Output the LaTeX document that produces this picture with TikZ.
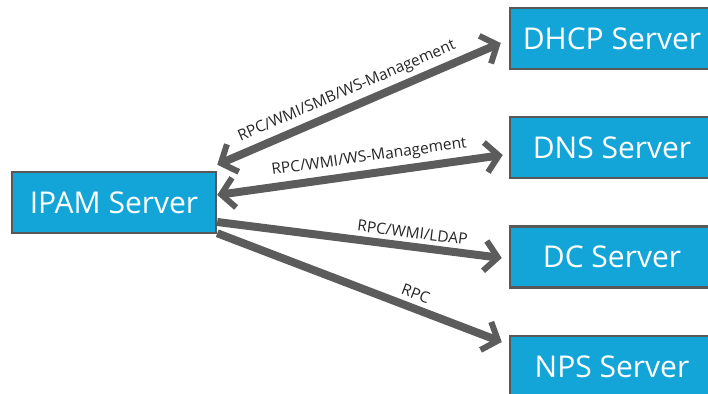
\documentclass[tikz,border=0pt]{standalone}
\usepackage{fontspec}
\setmainfont{Open Sans}
\usetikzlibrary{arrows.meta,calc}
\definecolor{boxblue}{RGB}{20,165,216}
\definecolor{boxedge}{RGB}{88,88,88}
\definecolor{linkgrey}{RGB}{92,92,92}
\tikzset{
  server/.style={draw=boxedge, line width=2.5pt, fill=boxblue, text=white,
    minimum width=204pt, minimum height=61pt, inner sep=0pt,
    font=\fontsize{30}{30}\selectfont},
  barb/.tip={Straight Barb[length=13pt,width=30pt,line width=6pt]},
  link/.style={draw=linkgrey, line width=8pt, -barb},
  twoway/.style={draw=linkgrey, line width=8pt, barb-barb},
  proto/.style={sloped, above, inner sep=4.5pt, text=black!85,
    font=\fontsize{15.5}{16}\selectfont}
}
\begin{document}
\begin{tikzpicture}[x=1pt,y=1pt]
  \useasboundingbox (0,0) rectangle (708,393);
  \begin{scope}
    \clip (0,0) rectangle (708,393);
    % servers
    \node[server] (ipam) at (114,190.5) {IPAM Server};
    \node[server] (dhcp) at (612,354.5) {DHCP Server};
    \node[server] (dns)  at (612,245.5) {DNS Server};
    \node[server] (dc)   at (612,136)   {DC Server};
    \node[server] (nps)  at (612,26.5)  {NPS Server};
    % protocol links
    \draw[twoway] ($(ipam.north east)+(0,6)$) -- ($(dhcp.west)+(-8,-4.5)$)
      node[proto, pos=0.48] {RPC/WMI/SMB/WS-Management};
    \draw[twoway] ($(ipam.east)+(0,7.5)$) -- ($(dns.west)+(-6,-7.5)$)
      node[proto, pos=0.54] {RPC/WMI/WS-Management};
    \draw[link] ($(ipam.east)+(0,-19.5)$) -- ($(dc.west)+(-7,-1)$)
      node[proto, pos=0.68] {RPC/WMI/LDAP};
    \draw[link] ($(ipam.south east)+(0,1)$) -- ($(nps.west)+(-7,24.5)$)
      node[proto, pos=0.68] {RPC};
  \end{scope}
\end{tikzpicture}
\end{document}
